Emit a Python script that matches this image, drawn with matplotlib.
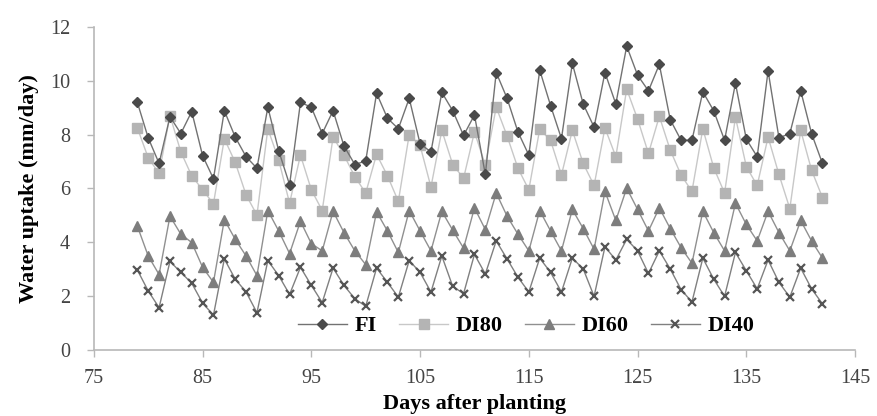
import numpy as np
import matplotlib
matplotlib.use("Agg")
import matplotlib.pyplot as plt

# ── DATA ──────────────────────────────────────────────────────
days = list(range(79, 143))

fi = [9.2, 7.88, 6.93, 8.67, 8.04, 8.86, 7.22, 6.36, 8.89, 7.91,
      7.18, 6.75, 9.02, 7.4, 6.14, 9.2, 9.02, 8.04, 8.89, 7.58,
      6.89, 7.02, 9.54, 8.61, 8.22, 9.35, 7.66, 7.36, 9.57, 8.89,
      7.97, 8.73, 6.52, 10.31, 9.35, 8.1, 7.24, 10.4, 9.08, 7.85,
      10.65, 9.14, 8.28, 10.31, 9.14, 11.29, 10.21, 9.63, 10.61, 8.56,
      7.79, 7.79, 9.59, 8.89, 7.79, 9.91, 7.83, 7.18, 10.37, 7.88,
      8.04, 9.63, 8.04, 6.93]

di80 = [8.25, 7.14, 6.56, 8.71, 7.36, 6.47, 5.95, 5.43, 7.85, 6.97,
        5.76, 5.01, 8.22, 7.06, 5.45, 7.24, 5.95, 5.18, 7.91, 7.24,
        6.44, 5.83, 7.27, 6.47, 5.52, 8.0, 7.6, 6.05, 8.16, 6.89,
        6.38, 8.1, 6.87, 9.02, 7.95, 6.75, 5.95, 8.2, 7.79, 6.5,
        8.16, 6.93, 6.11, 8.25, 7.18, 9.69, 8.58, 7.3, 8.68, 7.43,
        6.5, 5.89, 8.22, 6.77, 5.83, 8.65, 6.81, 6.11, 7.91, 6.52,
        5.25, 8.16, 6.68, 5.66]

di60 = [4.6, 3.49, 2.8, 4.97, 4.3, 3.99, 3.07, 2.51, 4.84, 4.11,
        3.49, 2.76, 5.18, 4.42, 3.58, 4.78, 3.95, 3.68, 5.15, 4.36,
        3.68, 3.17, 5.13, 4.42, 3.62, 5.18, 4.42, 3.68, 5.15, 4.45,
        3.78, 5.28, 4.47, 5.83, 4.97, 4.3, 3.68, 5.18, 4.42, 3.68,
        5.22, 4.51, 3.74, 5.89, 4.81, 6.01, 5.22, 4.42, 5.28, 4.51,
        3.8, 3.22, 5.15, 4.36, 3.68, 5.45, 4.66, 4.05, 5.15, 4.36,
        3.68, 4.81, 4.05, 3.41]

di40 = [2.97, 2.19, 1.57, 3.29, 2.88, 2.48, 1.74, 1.29, 3.38, 2.63,
        2.15, 1.38, 3.32, 2.76, 2.06, 3.07, 2.4, 1.76, 3.04, 2.4,
        1.9, 1.62, 3.04, 2.51, 1.96, 3.32, 2.88, 2.15, 3.49, 2.36,
        2.09, 3.55, 2.82, 4.05, 3.38, 2.7, 2.15, 3.41, 2.88, 2.15,
        3.41, 3.01, 1.99, 3.83, 3.34, 4.11, 3.68, 2.84, 3.68, 3.01,
        2.24, 1.78, 3.41, 2.63, 1.99, 3.62, 2.94, 2.27, 3.34, 2.51,
        1.96, 3.04, 2.27, 1.71]

x_ticks = [75, 85, 95, 105, 115, 125, 135, 145]
y_ticks = [0, 2, 4, 6, 8, 10, 12]

# ── CHART ─────────────────────────────────────────────────────
fig = plt.figure(figsize=(8.77, 4.16), dpi=100)
ax = fig.add_axes([0.107, 0.159, 0.868, 0.776])

serif = ['Liberation Serif', 'DejaVu Serif']

ax.plot(days, fi, color='#727272', lw=1.0, marker='D', ms=5.5,
        mfc='#4a4a4a', mec='#4a4a4a', label='FI', zorder=4)
ax.plot(days, di80, color='#c8c8c8', lw=1.0, marker='s', ms=7,
        mfc='#b4b4b4', mec='#b4b4b4', label='DI80', zorder=3)
ax.plot(days, di60, color='#909090', lw=1.0, marker='^', ms=7,
        mfc='#7d7d7d', mec='#7d7d7d', label='DI60', zorder=3)
ax.plot(days, di40, color='#808080', lw=1.0, marker='x', ms=6, mew=1.6,
        mec='#555555', label='DI40', zorder=3)

ax.set_xlim(75, 145)
ax.set_ylim(0, 12)
ax.set_xticks(x_ticks)
ax.set_yticks(y_ticks)

for side in ['top', 'right']:
    ax.spines[side].set_visible(False)
for side in ['left', 'bottom']:
    ax.spines[side].set_color('#b8b8b8')
    ax.spines[side].set_linewidth(1.2)

ax.tick_params(axis='both', colors='#b8b8b8', length=5, width=1,
               labelcolor='#444444', labelsize=14.5)
ax.tick_params(axis='x', pad=9)
ax.tick_params(axis='y', pad=12)
for lbl in ax.get_xticklabels() + ax.get_yticklabels():
    lbl.set_family(serif)

ax.set_xlabel('Days after planting', fontsize=16, fontweight='bold',
              family=serif, labelpad=4)
ax.set_ylabel('Water uptake (mm/day)', fontsize=16, fontweight='bold',
              family=serif, labelpad=8)

leg = ax.legend(loc='lower center', bbox_to_anchor=(0.568, -0.02), ncol=4,
                frameon=False, handlelength=2.2, columnspacing=1.0,
                handletextpad=0.35,
                prop={'family': serif, 'weight': 'bold', 'size': 16})

plt.savefig('out.png', dpi=100, facecolor='white')
plt.close()
